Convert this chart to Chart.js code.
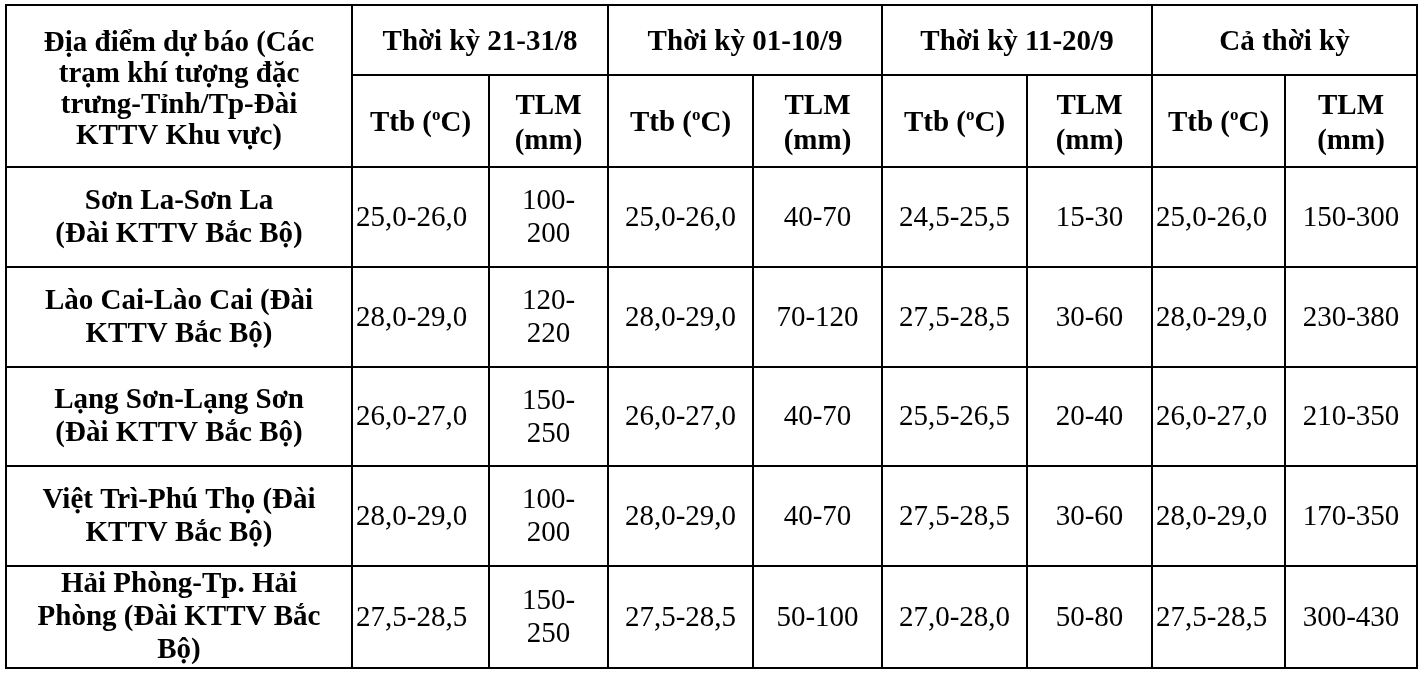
<!DOCTYPE html>
<html>
<head>
<meta charset="utf-8">
<script src="https://cdn.jsdelivr.net/npm/chart.js@4.4.0/dist/chart.umd.min.js"></script>
<style>
  html, body { margin: 0; background: #fff; }
  #wrap { width: 1428px; height: 680px; }
</style>
</head>
<body>
<div id="wrap"><canvas id="forecast-table"></canvas></div>
<script>
// Table content
const firstHeader = 'Địa điểm dự báo (Các\ntrạm khí tượng đặc\ntrưng-Tỉnh/Tp-Đài\nKTTV Khu vực)';
const periods = ['Thời kỳ 21-31/8', 'Thời kỳ 01-10/9', 'Thời kỳ 11-20/9', 'Cả thời kỳ'];
const subHeaders = ['Ttb (ºC)', 'TLM\n(mm)'];
const stations = [
  'Sơn La-Sơn La\n(Đài KTTV Bắc Bộ)',
  'Lào Cai-Lào Cai (Đài\nKTTV Bắc Bộ)',
  'Lạng Sơn-Lạng Sơn\n(Đài KTTV Bắc Bộ)',
  'Việt Trì-Phú Thọ (Đài\nKTTV Bắc Bộ)',
  'Hải Phòng-Tp. Hải\nPhòng (Đài KTTV Bắc\nBộ)'
];
const ttb2131_8 = ['25,0-26,0', '28,0-29,0', '26,0-27,0', '28,0-29,0', '27,5-28,5'];
const tlm2131_8 = ['100-200', '120-220', '150-250', '100-200', '150-250'];
const ttb0110_9 = ['25,0-26,0', '28,0-29,0', '26,0-27,0', '28,0-29,0', '27,5-28,5'];
const tlm0110_9 = ['40-70', '70-120', '40-70', '40-70', '50-100'];
const ttb1120_9 = ['24,5-25,5', '27,5-28,5', '25,5-26,5', '27,5-28,5', '27,0-28,0'];
const tlm1120_9 = ['15-30', '30-60', '20-40', '30-60', '50-80'];
const ttbAll = ['25,0-26,0', '28,0-29,0', '26,0-27,0', '28,0-29,0', '27,5-28,5'];
const tlmAll = ['150-300', '230-380', '210-350', '170-350', '300-430'];

const ttbCols = [ttb2131_8, ttb0110_9, ttb1120_9, ttbAll];
const tlmCols = [tlm2131_8, tlm0110_9, tlm1120_9, tlmAll];

// Layout
const colWidths = [346, 137, 119, 145, 129, 145, 125, 133, 132];
const rowHeights = [70, 92, 100, 100, 99, 100, 102];
const ttbAlign = ['left', 'center', 'center', 'left'];
const FONT = '"Liberation Serif", "Times New Roman", serif';
const BOLD = 29, NORMAL = 29;

function edges(sizes) {
  const out = [0];
  sizes.forEach(s => out.push(out[out.length - 1] + s));
  return out;
}
const colEdges = edges(colWidths);
const rowEdges = edges(rowHeights);

const tablePlugin = {
  id: 'tableCells',
  afterDraw(chart) {
    const { ctx, scales: { x, y } } = chart;
    const px = v => Math.round(x.getPixelForValue(v));
    const py = v => Math.round(y.getPixelForValue(v));

    function setFont(size, bold) {
      ctx.font = (bold ? 'bold ' : '') + size + 'px ' + FONT;
    }

    // one line of text, with "º" drawn as a small raised o
    function drawLine(text, x0, x1, cy, align, size, bold) {
      const parts = text.split('º');
      const supSize = Math.round(size * 0.6);
      const widths = parts.map(p => { setFont(size, bold); return ctx.measureText(p).width; });
      setFont(supSize, bold);
      const supW = ctx.measureText('o').width;
      const w = widths.reduce((a, b) => a + b, 0) + supW * (parts.length - 1);
      let cx = align === 'left' ? x0 + 4 : (x0 + x1) / 2 - w / 2;
      ctx.textAlign = 'left';
      ctx.textBaseline = 'middle';
      parts.forEach((p, i) => {
        setFont(size, bold);
        ctx.fillText(p, cx, cy);
        cx += widths[i];
        if (i < parts.length - 1) {
          setFont(supSize, bold);
          ctx.fillText('o', cx, cy - size * 0.3);
          cx += supW;
        }
      });
    }

    function drawCell(c0, c1, r0, r1, lines, size, bold, lh, align, dy) {
      const x0 = px(colEdges[c0]), x1 = px(colEdges[c1]);
      const cy = (py(rowEdges[r0]) + py(rowEdges[r1])) / 2 + 1 + (dy || 0);
      const start = cy - (lines.length - 1) * lh / 2;
      lines.forEach((l, i) => drawLine(l, x0, x1, start + i * lh, align || 'center', size, bold));
    }

    // split a range at its hyphen when it does not fit the cell
    function wrapRange(s, c) {
      setFont(NORMAL, false);
      const avail = px(colEdges[c + 1]) - px(colEdges[c]) - 30;
      if (ctx.measureText(s).width <= avail) return [s];
      const i = s.indexOf('-');
      return [s.slice(0, i + 1), s.slice(i + 1)];
    }

    ctx.save();
    ctx.fillStyle = '#000';

    // header
    drawCell(0, 1, 0, 2, firstHeader.split('\n'), BOLD, true, 31, 'center', 3);
    periods.forEach((p, i) => {
      const c = 1 + i * 2;
      drawCell(c, c + 2, 0, 1, [p], BOLD, true, 32, 'center', 2);
      drawCell(c, c + 1, 1, 2, subHeaders[0].split('\n'), BOLD, true, 34, 'center', 2);
      drawCell(c + 1, c + 2, 1, 2, subHeaders[1].split('\n'), BOLD, true, 35, 'center', 2);
    });

    // body
    stations.forEach((s, r) => {
      const row = r + 2;
      drawCell(0, 1, row, row + 1, s.split('\n'), BOLD, true, 33);
      for (let i = 0; i < periods.length; i++) {
        const c = 1 + i * 2;
        drawCell(c, c + 1, row, row + 1, [ttbCols[i][r]], NORMAL, false, 33, ttbAlign[i]);
        drawCell(c + 1, c + 2, row, row + 1, wrapRange(tlmCols[i][r], c + 1), NORMAL, false, 33);
      }
    });

    // borders
    ctx.strokeStyle = '#000';
    ctx.lineWidth = 2;
    ctx.lineCap = 'square';
    const line = (xa, ya, xb, yb) => {
      ctx.beginPath();
      ctx.moveTo(px(xa), py(ya));
      ctx.lineTo(px(xb), py(yb));
      ctx.stroke();
    };
    const W = colEdges[colEdges.length - 1], H = rowEdges[rowEdges.length - 1];
    line(0, 0, W, 0);
    line(0, H, W, H);
    line(0, 0, 0, H);
    line(W, 0, W, H);
    line(colEdges[1], rowEdges[1], W, rowEdges[1]);
    for (let r = 2; r < rowEdges.length - 1; r++) line(0, rowEdges[r], W, rowEdges[r]);
    for (let c = 1; c < colEdges.length - 1; c++) {
      const top = (c % 2 === 0) ? rowEdges[1] : 0;
      line(colEdges[c], top, colEdges[c], H);
    }
    ctx.restore();
  }
};

new Chart(document.getElementById('forecast-table'), {
  type: 'scatter',
  data: { datasets: [{ data: [], pointRadius: 0 }] },
  options: {
    responsive: true,
    maintainAspectRatio: false,
    animation: false,
    layout: { padding: { left: 6, top: 5, right: 11, bottom: 12 } },
    plugins: { legend: { display: false }, tooltip: { enabled: false } },
    scales: {
      x: { type: 'linear', display: false, min: 0, max: colEdges[colEdges.length - 1] },
      y: { type: 'linear', display: false, min: 0, max: rowEdges[rowEdges.length - 1], reverse: true }
    }
  },
  plugins: [tablePlugin]
});
</script>
</body>
</html>
